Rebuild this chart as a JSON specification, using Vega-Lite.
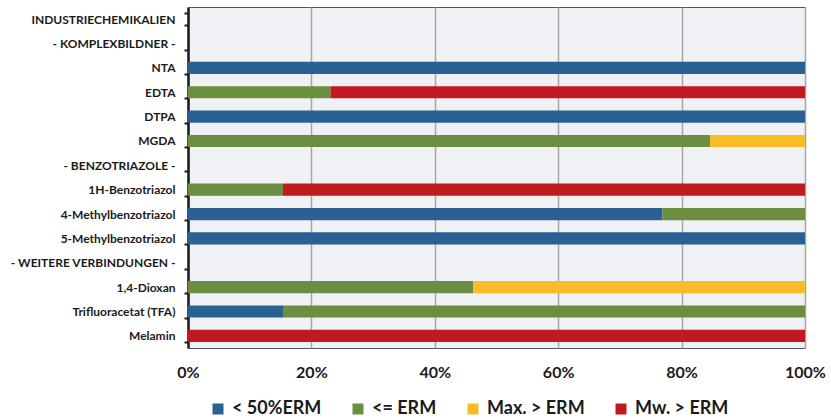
{
  "$schema": "https://vega.github.io/schema/vega-lite/v6.json",
  "width": 617,
  "height": 341,
  "autosize": {"type": "none"},
  "padding": {"left": 188, "top": 7, "right": 26, "bottom": 71},
  "background": "white",
  "config": {
    "view": {"fill": "#F0F1F4", "stroke": "#555555", "strokeWidth": 1},
    "font": "Lato"
  },
  "data": {
    "values": [
      {"cat": "NTA", "cls": "< 50%ERM", "ord": 1, "v": 100},
      {"cat": "EDTA", "cls": "<= ERM", "ord": 2, "v": 23.1},
      {"cat": "EDTA", "cls": "Mw. > ERM", "ord": 4, "v": 76.9},
      {"cat": "DTPA", "cls": "< 50%ERM", "ord": 1, "v": 100},
      {"cat": "MGDA", "cls": "<= ERM", "ord": 2, "v": 84.6},
      {"cat": "MGDA", "cls": "Max. > ERM", "ord": 3, "v": 15.4},
      {"cat": "1H-Benzotriazol", "cls": "<= ERM", "ord": 2, "v": 15.4},
      {"cat": "1H-Benzotriazol", "cls": "Mw. > ERM", "ord": 4, "v": 84.6},
      {"cat": "4-Methylbenzotriazol", "cls": "< 50%ERM", "ord": 1, "v": 76.9},
      {"cat": "4-Methylbenzotriazol", "cls": "<= ERM", "ord": 2, "v": 23.1},
      {"cat": "5-Methylbenzotriazol", "cls": "< 50%ERM", "ord": 1, "v": 100},
      {"cat": "1,4-Dioxan", "cls": "<= ERM", "ord": 2, "v": 46.2},
      {"cat": "1,4-Dioxan", "cls": "Max. > ERM", "ord": 3, "v": 53.8},
      {"cat": "Trifluoracetat (TFA)", "cls": "< 50%ERM", "ord": 1, "v": 15.4},
      {"cat": "Trifluoracetat (TFA)", "cls": "<= ERM", "ord": 2, "v": 84.6},
      {"cat": "Melamin", "cls": "Mw. > ERM", "ord": 4, "v": 100}
    ]
  },
  "mark": {"type": "bar"},
  "encoding": {
    "y": {
      "field": "cat",
      "type": "nominal",
      "sort": null,
      "title": null,
      "scale": {
        "domain": ["INDUSTRIECHEMIKALIEN", "- KOMPLEXBILDNER -", "NTA", "EDTA", "DTPA", "MGDA", "- BENZOTRIAZOLE -", "1H-Benzotriazol", "4-Methylbenzotriazol", "5-Methylbenzotriazol", "- WEITERE VERBINDUNGEN -", "1,4-Dioxan", "Trifluoracetat (TFA)", "Melamin"],
        "paddingInner": 0.5,
        "paddingOuter": 0.25
      },
      "axis": {
        "labelFont": "Lato",
        "labelFontWeight": "bold",
        "labelFontSize": 12,
        "labelColor": "#1a1a1a",
        "labelPadding": 9,
        "labelLimit": 300,
        "domainColor": "#1a1a1a",
        "domainWidth": 2.5,
        "tickColor": "#1a1a1a",
        "tickWidth": 2,
        "tickSize": 4,
        "tickBand": "extent",
        "grid": false
      }
    },
    "x": {
      "field": "v",
      "type": "quantitative",
      "stack": "zero",
      "title": null,
      "scale": {"domain": [0, 100], "nice": false},
      "axis": {
        "values": [0, 20, 40, 60, 80, 100],
        "labelExpr": "datum.value + '%'",
        "labelFlush": false,
        "labelFont": "Lato",
        "labelFontWeight": "bold",
        "labelFontSize": 16,
        "labelColor": "#1a1a1a",
        "labelPadding": 16,
        "domain": false,
        "ticks": false,
        "grid": true,
        "gridColor": "#A6A6A6",
        "gridWidth": 1.5
      }
    },
    "color": {
      "field": "cls",
      "type": "nominal",
      "title": null,
      "scale": {
        "domain": ["< 50%ERM", "<= ERM", "Max. > ERM", "Mw. > ERM"],
        "range": ["#2A6192", "#6B8E41", "#F8BC27", "#C0191F"]
      },
      "legend": {
        "orient": "none",
        "direction": "horizontal",
        "legendX": 21,
        "legendY": 393,
        "symbolType": "square",
        "symbolSize": 121,
        "symbolStrokeWidth": 0,
        "labelFont": "Lato",
        "labelFontWeight": "bold",
        "labelFontSize": 18,
        "labelColor": "#1a1a1a",
        "labelOffset": 5,
        "columnPadding": 27,
        "labelLimit": 250
      }
    },
    "order": {"field": "ord", "type": "quantitative"}
  }
}
